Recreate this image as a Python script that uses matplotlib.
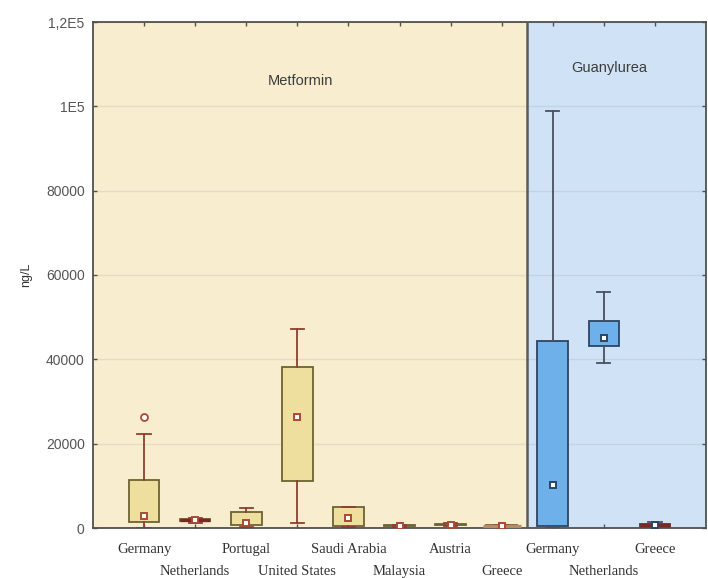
import matplotlib
matplotlib.use("Agg")
import matplotlib.pyplot as plt
from matplotlib.ticker import FixedLocator, FixedFormatter

# Sampling sites and the compound each box belongs to
sites = ["Germany", "Netherlands", "Portugal", "United States", "Saudi Arabia",
         "Malaysia", "Austria", "Greece", "Germany", "Netherlands", "Greece"]
compounds = ["Metformin"] * 8 + ["Guanylurea"] * 3

# Concentration statistics (ng/L)
whisker_low = [0, 1300, 300, 1200, 300, 300, 500, 0, 0, 39200, 0]
quartile_1 = [1400, 1600, 700, 11100, 500, 400, 600, 100, 500, 43200, 300]
medians = [2800, 1900, 1200, 26300, 2400, 500, 800, 400, 10200, 45000, 600]
quartile_3 = [11400, 2200, 3800, 38200, 5000, 600, 1000, 700, 44300, 49100, 900]
whisker_high = [22300, 2400, 4700, 47200, 5000, 700, 1100, 800, 99000, 56000, 1500]
outliers = [[26300], [], [], [], [], [], [], [], [], [], []]

y_ticks = [0, 20000, 40000, 60000, 80000, 100000, 120000]
y_tick_labels = ["0", "20000", "40000", "60000", "80000", "1E5", "1,2E5"]

style = {
    "Metformin": dict(bg="#F8EDCF", face="#EEDF9E", edge="#6E6233",
                      whisk="#8E3F2E", mark="#A84A35", title_x=4.07, title_y=106000),
    "Guanylurea": dict(bg="#D0E3F6", face="#6DB0EA", edge="#2C4563",
                       whisk="#4A4F5E", mark="#2C4563", title_x=10.1, title_y=109000),
}
# colour of the bar drawn over boxes too flat to show as a box
flat_bar = {1: "#7A2A22", 7: "#B98A66", 10: "#7A2A22"}

fig = plt.figure(figsize=(7.08, 5.78), dpi=100)
ax = fig.add_axes([93 / 708, 1 - 528 / 578, 613 / 708, 506 / 578])

positions = list(range(1, len(sites) + 1))
ax.set_xlim(0, 12)
ax.set_ylim(0, 120000)

# panel backgrounds
ax.axvspan(0, 8.5, color=style["Metformin"]["bg"], zorder=0, lw=0)
ax.axvspan(8.5, 12, color=style["Guanylurea"]["bg"], zorder=0, lw=0)
for yt in y_ticks:
    ax.axhline(yt, color=(0.45, 0.42, 0.35, 0.13), lw=1.0, zorder=0.5)
ax.axvline(8.5, color="#5b5b5b", lw=1.8, zorder=3)

for i, pos in enumerate(positions):
    st = style[compounds[i]]
    stats = [dict(whislo=whisker_low[i], q1=quartile_1[i], med=medians[i],
                  q3=quartile_3[i], whishi=whisker_high[i], fliers=outliers[i])]
    ax.bxp(stats, positions=[pos], widths=0.6, patch_artist=True,
           manage_ticks=False, showfliers=True,
           boxprops=dict(facecolor=st["face"], edgecolor=st["edge"], linewidth=1.3),
           whiskerprops=dict(color=st["whisk"], linewidth=1.3),
           capprops=dict(color=st["whisk"], linewidth=1.3),
           capwidths=0.26,
           medianprops=dict(linewidth=0),
           flierprops=dict(marker="o", markersize=5, markerfacecolor="white",
                           markeredgecolor=st["mark"], markeredgewidth=1.3),
           zorder=2)
    if i in flat_bar:
        half = 0.37 if i == 7 else 0.3
        ax.plot([pos - half, pos + half], [medians[i]] * 2, color=flat_bar[i],
                lw=2.4, zorder=4, solid_capstyle="butt")
    ax.plot(pos, medians[i], marker="s", markersize=5, markerfacecolor="white",
            markeredgecolor=st["mark"], markeredgewidth=1.4, zorder=5)

for name in ["Metformin", "Guanylurea"]:
    st = style[name]
    ax.text(st["title_x"], st["title_y"], name, ha="center", va="center",
            fontsize=10.5, color="#3c3c3c", family="Liberation Sans")

# axes frame and ticks
for sp in ax.spines.values():
    sp.set_color("#505050")
    sp.set_linewidth(1.3)
ax.yaxis.set_major_locator(FixedLocator(y_ticks))
ax.yaxis.set_major_formatter(FixedFormatter(y_tick_labels))
ax.tick_params(axis="y", direction="in", length=3, width=1, colors="#505050",
               labelsize=10, labelcolor="#555555", right=True, pad=6)
for lbl in ax.get_yticklabels():
    lbl.set_family("Liberation Sans")

ax.set_xticks(positions)
ax.set_xticklabels([])
ax.tick_params(axis="x", direction="in", length=3, width=1, colors="#505050",
               top=True)

# staggered category labels
for i, pos in enumerate(positions):
    y_off = -0.043 if i % 2 == 0 else -0.085
    ax.text(pos, y_off, sites[i], transform=ax.get_xaxis_transform(),
            ha="center", va="center", fontsize=10.5, color="#333333",
            family="Liberation Serif")

ax.set_ylabel("ng/L", fontsize=9, color="#333333", family="Liberation Sans",
              labelpad=10)

fig.savefig("out.png", dpi=100)
